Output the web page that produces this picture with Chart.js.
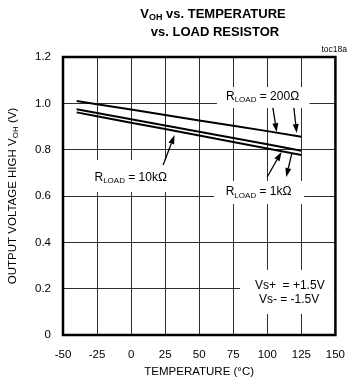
<!DOCTYPE html>
<html>
<head>
<meta charset="utf-8">
<script src="https://cdn.jsdelivr.net/npm/chart.js@4"></script>
<style>
html,body{margin:0;padding:0;background:#fff;}
</style>
</head>
<body>
<canvas id="mycanvas" width="358" height="391"></canvas>
<script>
// values
var temps = [-40, -25, 0, 25, 50, 75, 100, 125];
var vohR200 = [1.010, 0.996, 0.973, 0.950, 0.926, 0.903, 0.880, 0.856];
var vohR10k = [0.974, 0.958, 0.931, 0.904, 0.877, 0.850, 0.823, 0.795];
var vohR1k  = [0.961, 0.944, 0.916, 0.889, 0.861, 0.833, 0.805, 0.777];
var xTicks = [-50, -25, 0, 25, 50, 75, 100, 125, 150];
var yTicks = [0, 0.2, 0.4, 0.6, 0.8, 1, 1.2];

var FONT = "'Liberation Sans', Arial, sans-serif";

function pts(ys) {
	var out = [];
	for (var i in temps) out.push({x: temps[i], y: ys[i]});
	return out;
}

// label boxes / arrows in data units (temperature, volts)
var notes = [
	{parts: [["R"], ["LOAD", 1], [" = 200\u03A9"]], x: 96.5, y: 1.03, box: [63, 131, 1.07, 0.98]},
	{parts: [["R"], ["LOAD", 1], [" = 10k\u03A9"]], x: -0.3, y: 0.678, box: [-28, 28, 0.755, 0.617]},
	{parts: [["R"], ["LOAD", 1], [" = 1k\u03A9"]], x: 93.6, y: 0.617, box: [61, 127, 0.665, 0.565]},
	{parts: [["Vs+  = +1.5V"]], x: 116.5, y: 0.211, box: [80, 149, 0.281, 0.091]},
	{parts: [["Vs- = -1.5V"]], x: 116, y: 0.151}
];
var arrows = [
	[104.1, 0.980, 106.9, 0.876],
	[119.5, 0.980, 121.6, 0.872],
	[23.5, 0.734, 31.9, 0.863],
	[99.9, 0.682, 110.4, 0.790],
	[118.1, 0.786, 113.9, 0.682]
];

function richText(ctx, parts, x, y, size, bold, align) {
	var w = 0, i;
	var f = function (p) {
		return (bold ? "bold " : "") + (p[1] ? Math.round(size * 0.7) : size) + "px " + FONT;
	};
	for (i = 0; i < parts.length; i++) {
		ctx.font = f(parts[i]);
		w += ctx.measureText(parts[i][0]).width;
	}
	var cx = align === "right" ? x - w : x - w / 2;
	ctx.textAlign = "left";
	ctx.textBaseline = "middle";
	for (i = 0; i < parts.length; i++) {
		ctx.font = f(parts[i]);
		ctx.fillText(parts[i][0], cx, parts[i][1] ? y + size * 0.28 : y);
		cx += ctx.measureText(parts[i][0]).width;
	}
}

var decor = {
	id: "decor",
	beforeDatasetsDraw: function (chart) {
		var ctx = chart.ctx, xs = chart.scales.x, ys = chart.scales.y;
		ctx.save();
		ctx.fillStyle = "#fff";
		notes.forEach(function (n) {
			if (!n.box) return;
			var x1 = xs.getPixelForValue(n.box[0]), x2 = xs.getPixelForValue(n.box[1]);
			var y1 = ys.getPixelForValue(n.box[2]), y2 = ys.getPixelForValue(n.box[3]);
			ctx.fillRect(x1, y1, x2 - x1, y2 - y1);
		});
		ctx.restore();
	},
	afterDatasetsDraw: function (chart) {
		var ctx = chart.ctx, xs = chart.scales.x, ys = chart.scales.y, a = chart.chartArea;
		ctx.save();
		ctx.fillStyle = "#000";
		ctx.strokeStyle = "#000";
		notes.forEach(function (n) {
			richText(ctx, n.parts, xs.getPixelForValue(n.x), ys.getPixelForValue(n.y), 12, false);
		});
		arrows.forEach(function (r) {
			var x1 = xs.getPixelForValue(r[0]), y1 = ys.getPixelForValue(r[1]);
			var x2 = xs.getPixelForValue(r[2]), y2 = ys.getPixelForValue(r[3]);
			var ang = Math.atan2(y2 - y1, x2 - x1), L = 9, W = 3;
			var bx = x2 - L * Math.cos(ang), by = y2 - L * Math.sin(ang);
			ctx.lineWidth = 1.3;
			ctx.beginPath();
			ctx.moveTo(x1, y1);
			ctx.lineTo(bx, by);
			ctx.stroke();
			ctx.beginPath();
			ctx.moveTo(x2, y2);
			ctx.lineTo(bx + W * Math.sin(ang), by - W * Math.cos(ang));
			ctx.lineTo(bx - W * Math.sin(ang), by + W * Math.cos(ang));
			ctx.closePath();
			ctx.fill();
		});
		// plot frame
		ctx.lineWidth = 2.5;
		ctx.strokeRect(a.left, a.top, a.right - a.left, a.bottom - a.top);
		ctx.restore();
	},
	afterDraw: function (chart) {
		var ctx = chart.ctx, a = chart.chartArea;
		ctx.save();
		ctx.fillStyle = "#000";
		richText(ctx, [["V"], ["OH", 1], [" vs. TEMPERATURE"]], 213, 14, 13, true);
		richText(ctx, [["vs. LOAD RESISTOR"]], 215, 32, 13, true);
		ctx.font = "8.5px " + FONT;
		ctx.textAlign = "right";
		ctx.textBaseline = "middle";
		ctx.fillText("toc18a", 347, 50);
		richText(ctx, [["TEMPERATURE (\u00B0C)"]], (a.left + a.right) / 2, 372, 11.5, false);
		ctx.translate(13, (a.top + a.bottom) / 2);
		ctx.rotate(-Math.PI / 2);
		richText(ctx, [["OUTPUT VOLTAGE HIGH V"], ["OH", 1], [" (V)"]], 0, 0, 11.5, false);
		ctx.restore();
	}
};

function line(label, data) {
	return {
		label: label,
		data: data,
		borderColor: "#000",
		borderWidth: 2,
		pointRadius: 0,
		fill: false,
		tension: 0
	};
}

var ctx = document.getElementById("mycanvas");
var VohChart = new Chart(ctx, {
	type: "line",
	data: {
		datasets: [
			line("RLOAD = 200\u03A9", pts(vohR200)),
			line("RLOAD = 10k\u03A9", pts(vohR10k)),
			line("RLOAD = 1k\u03A9", pts(vohR1k))
		]
	},
	options: {
		responsive: false,
		animation: false,
		devicePixelRatio: 1,
		layout: {padding: {top: 57, right: 10, left: 0, bottom: 0}},
		plugins: {legend: {display: false}, tooltip: {enabled: false}, title: {display: false}},
		scales: {
			x: {
				type: "linear",
				min: -50, max: 150,
				afterBuildTicks: function (s) { s.ticks = xTicks.map(function (v) { return {value: v}; }); },
				afterFit: function (s) { s.height = 56; },
				grid: {color: "#2e2e2e", lineWidth: 1, drawTicks: false},
				border: {display: false},
				ticks: {color: "#000", padding: 13, maxRotation: 0, font: {family: FONT, size: 11.5}}
			},
			y: {
				min: 0, max: 1.2,
				afterBuildTicks: function (s) { s.ticks = yTicks.map(function (v) { return {value: v}; }); },
				afterFit: function (s) { s.width = 63; },
				grid: {color: "#2e2e2e", lineWidth: 1, drawTicks: false},
				border: {display: false},
				ticks: {color: "#000", padding: 12, font: {family: FONT, size: 11.5}}
			}
		}
	},
	plugins: [decor]
});
</script>
</body>
</html>
